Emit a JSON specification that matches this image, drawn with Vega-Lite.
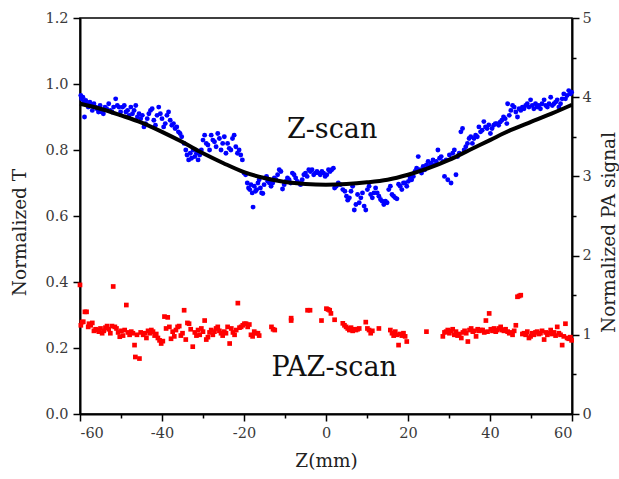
{
  "$schema": "https://vega.github.io/schema/vega-lite/v6.json",
  "autosize": "none",
  "width": 492,
  "height": 396,
  "padding": {"left": 80, "top": 18, "right": 47, "bottom": 65},
  "background": "white",
  "config": {
    "view": {"stroke": "#000", "strokeWidth": 1.5},
    "font": "DejaVu Serif",
    "axis": {
      "grid": false,
      "domainColor": "#000",
      "domainWidth": 2,
      "tickColor": "#000",
      "tickWidth": 1.5,
      "labelFont": "DejaVu Serif",
      "labelFontSize": 14.5,
      "labelColor": "#3a3a3a",
      "titleFont": "DejaVu Serif",
      "titleFontSize": 18.5,
      "titleFontWeight": "normal",
      "titleColor": "#222"
    }
  },
  "datasets": {
    "blue": [
      {"z":-59.8,"t":0.965},{"z":-59.6,"t":0.955},{"z":-59.3,"t":0.96},{"z":-59.1,"t":0.945},{"z":-58.9,"t":0.90},{"z":-58.6,"t":0.95},{"z":-58.3,"t":0.94},{"z":-58.0,"t":0.93},{"z":-57.6,"t":0.945},{"z":-57.3,"t":0.935},{"z":-57.0,"t":0.92},{"z":-56.6,"t":0.94},{"z":-56.2,"t":0.93},{"z":-55.9,"t":0.925},{"z":-55.5,"t":0.915},{"z":-55.1,"t":0.935},{"z":-54.7,"t":0.915},{"z":-54.3,"t":0.91},{"z":-53.9,"t":0.93},{"z":-53.5,"t":0.925},{"z":-53.0,"t":0.94},{"z":-52.6,"t":0.92},{"z":-52.2,"t":0.915},{"z":-51.8,"t":0.93},{"z":-51.3,"t":0.955},{"z":-50.9,"t":0.935},{"z":-50.5,"t":0.93},{"z":-50.1,"t":0.915},
      {"z":-49.6,"t":0.93},{"z":-49.2,"t":0.935},{"z":-48.8,"t":0.915},{"z":-48.4,"t":0.92},{"z":-48.0,"t":0.905},{"z":-47.6,"t":0.93},{"z":-47.2,"t":0.91},{"z":-46.8,"t":0.92},{"z":-46.4,"t":0.935},{"z":-46.0,"t":0.90},{"z":-45.6,"t":0.91},{"z":-45.2,"t":0.895},{"z":-44.8,"t":0.905},{"z":-44.4,"t":0.87},{"z":-44.0,"t":0.88},{"z":-43.6,"t":0.895},{"z":-43.2,"t":0.91},{"z":-42.8,"t":0.92},{"z":-42.4,"t":0.925},{"z":-42.0,"t":0.89},
      {"z":-41.6,"t":0.875},{"z":-41.2,"t":0.905},{"z":-40.8,"t":0.93},{"z":-40.4,"t":0.91},{"z":-40.0,"t":0.895},{"z":-39.6,"t":0.87},{"z":-39.2,"t":0.88},{"z":-38.8,"t":0.905},{"z":-38.4,"t":0.915},{"z":-38.0,"t":0.89},{"z":-37.6,"t":0.875},{"z":-37.2,"t":0.88},{"z":-36.8,"t":0.865},{"z":-36.4,"t":0.87},{"z":-36.0,"t":0.855},{"z":-35.6,"t":0.85},{"z":-35.2,"t":0.84},
      {"z":-34.6,"t":0.82},{"z":-34.2,"t":0.80},{"z":-33.9,"t":0.785},{"z":-33.5,"t":0.77},{"z":-33.1,"t":0.79},{"z":-32.8,"t":0.775},{"z":-32.4,"t":0.80},{"z":-32.0,"t":0.78},{"z":-31.6,"t":0.79},{"z":-31.2,"t":0.77},{"z":-30.8,"t":0.785},{"z":-30.4,"t":0.80},
      {"z":-30.0,"t":0.83},{"z":-29.6,"t":0.845},{"z":-29.2,"t":0.82},{"z":-28.8,"t":0.815},{"z":-28.4,"t":0.80},{"z":-28.0,"t":0.845},{"z":-27.6,"t":0.83},{"z":-27.2,"t":0.825},{"z":-26.8,"t":0.81},{"z":-26.4,"t":0.85},{"z":-26.0,"t":0.835},{"z":-25.6,"t":0.80},{"z":-25.2,"t":0.82},{"z":-24.8,"t":0.84},{"z":-24.4,"t":0.79},{"z":-24.0,"t":0.82},{"z":-23.6,"t":0.805},{"z":-23.2,"t":0.80},{"z":-22.8,"t":0.835},{"z":-22.4,"t":0.845},{"z":-22.0,"t":0.81},{"z":-21.6,"t":0.79},{"z":-21.2,"t":0.80},{"z":-20.8,"t":0.785},{"z":-20.4,"t":0.77},
      {"z":-20.0,"t":0.73},{"z":-19.6,"t":0.725},
      {"z":-19.2,"t":0.70},{"z":-18.9,"t":0.685},{"z":-18.6,"t":0.68},{"z":-18.3,"t":0.695},{"z":-18.0,"t":0.67},{"z":-17.8,"t":0.627},{"z":-17.5,"t":0.69},{"z":-17.2,"t":0.675},{"z":-16.9,"t":0.68},{"z":-16.6,"t":0.70},{"z":-16.3,"t":0.71},{"z":-16.0,"t":0.685},{"z":-15.7,"t":0.67},{"z":-15.4,"t":0.668},{"z":-15.1,"t":0.695},{"z":-14.8,"t":0.715},{"z":-14.5,"t":0.72},{"z":-14.2,"t":0.705},
      {"z":-13.8,"t":0.70},{"z":-13.4,"t":0.69},{"z":-13.0,"t":0.70},{"z":-12.6,"t":0.715},{"z":-12.2,"t":0.71},{"z":-11.8,"t":0.725},{"z":-11.4,"t":0.74},{"z":-11.0,"t":0.735},{"z":-10.6,"t":0.682},{"z":-10.2,"t":0.695},{"z":-9.8,"t":0.705},{"z":-9.4,"t":0.715},{"z":-9.0,"t":0.71},{"z":-8.6,"t":0.70},{"z":-8.2,"t":0.73},{"z":-7.8,"t":0.725},{"z":-7.4,"t":0.715},{"z":-7.0,"t":0.705},{"z":-6.6,"t":0.70},{"z":-6.2,"t":0.695},{"z":-5.8,"t":0.71},{"z":-5.4,"t":0.725},{"z":-5.0,"t":0.73},{"z":-4.6,"t":0.72},
      {"z":-4.2,"t":0.74},{"z":-3.8,"t":0.735},{"z":-3.4,"t":0.74},{"z":-3.0,"t":0.725},{"z":-2.6,"t":0.73},{"z":-2.2,"t":0.735},{"z":-1.8,"t":0.73},{"z":-1.4,"t":0.725},{"z":-1.0,"t":0.735},{"z":-0.6,"t":0.73},{"z":-0.2,"t":0.72},{"z":0.2,"t":0.725},{"z":0.6,"t":0.74},{"z":1.0,"t":0.735},{"z":1.4,"t":0.74},{"z":1.8,"t":0.745},{"z":2.1,"t":0.685},{"z":2.5,"t":0.69},{"z":3.0,"t":0.70},{"z":3.5,"t":0.695},{"z":4.1,"t":0.68},{"z":4.6,"t":0.675},
      {"z":5.0,"t":0.66},{"z":5.3,"t":0.648},{"z":5.7,"t":0.655},{"z":6.1,"t":0.675},{"z":6.5,"t":0.69},{"z":6.9,"t":0.618},{"z":7.3,"t":0.635},{"z":7.7,"t":0.665},{"z":8.1,"t":0.64},{"z":8.5,"t":0.655},{"z":8.9,"t":0.67},{"z":9.3,"t":0.63},{"z":9.7,"t":0.618},{"z":10.1,"t":0.68},{"z":10.5,"t":0.69},{"z":10.9,"t":0.665},{"z":11.3,"t":0.655},{"z":11.7,"t":0.67},
      {"z":12.1,"t":0.685},{"z":12.5,"t":0.67},{"z":12.9,"t":0.66},{"z":13.3,"t":0.65},{"z":13.7,"t":0.645},{"z":14.1,"t":0.635},{"z":14.5,"t":0.645},{"z":14.9,"t":0.64},{"z":15.3,"t":0.68},{"z":15.7,"t":0.69},{"z":16.1,"t":0.665},{"z":16.5,"t":0.66},{"z":16.9,"t":0.655},{"z":17.3,"t":0.652},{"z":17.7,"t":0.696},{"z":18.1,"t":0.69},{"z":18.5,"t":0.68},{"z":18.9,"t":0.70},{"z":19.3,"t":0.70},{"z":19.7,"t":0.69},{"z":20.1,"t":0.705},{"z":20.5,"t":0.715},{"z":20.9,"t":0.71},
      {"z":21.3,"t":0.72},{"z":21.7,"t":0.735},{"z":22.1,"t":0.745},{"z":22.5,"t":0.78},{"z":22.9,"t":0.74},{"z":23.3,"t":0.73},{"z":23.7,"t":0.75},{"z":24.1,"t":0.74},{"z":24.5,"t":0.755},{"z":24.9,"t":0.765},{"z":25.3,"t":0.75},{"z":25.7,"t":0.76},{"z":26.1,"t":0.77},{"z":26.5,"t":0.755},{"z":26.9,"t":0.765},{"z":27.3,"t":0.80},{"z":27.7,"t":0.775},{"z":28.1,"t":0.78},{"z":28.5,"t":0.765},{"z":28.9,"t":0.72},{"z":29.3,"t":0.77},
      {"z":29.7,"t":0.71},{"z":30.1,"t":0.785},{"z":30.5,"t":0.70},{"z":30.9,"t":0.79},{"z":31.3,"t":0.80},{"z":31.7,"t":0.725},{"z":32.1,"t":0.78},{"z":32.5,"t":0.79},{"z":32.9,"t":0.855},{"z":33.3,"t":0.865},{"z":33.7,"t":0.80},{"z":34.1,"t":0.81},
      {"z":34.5,"t":0.82},{"z":34.9,"t":0.835},{"z":35.3,"t":0.84},{"z":35.7,"t":0.82},{"z":36.1,"t":0.835},{"z":36.5,"t":0.845},{"z":36.9,"t":0.84},{"z":37.3,"t":0.87},{"z":37.7,"t":0.855},{"z":38.1,"t":0.86},{"z":38.5,"t":0.886},{"z":38.9,"t":0.87},{"z":39.3,"t":0.865},{"z":39.7,"t":0.876},{"z":40.1,"t":0.85},{"z":40.5,"t":0.865},{"z":40.9,"t":0.875},{"z":41.3,"t":0.88},{"z":41.7,"t":0.88},{"z":42.1,"t":0.875},
      {"z":42.5,"t":0.885},{"z":42.9,"t":0.89},{"z":43.3,"t":0.90},{"z":43.7,"t":0.895},{"z":44.1,"t":0.88},{"z":44.3,"t":0.94},{"z":44.7,"t":0.905},{"z":45.1,"t":0.92},{"z":45.5,"t":0.935},{"z":45.9,"t":0.93},{"z":46.3,"t":0.915},{"z":46.7,"t":0.90},{"z":47.1,"t":0.925},{"z":47.5,"t":0.92},{"z":47.9,"t":0.93},{"z":48.3,"t":0.925},{"z":48.7,"t":0.935},{"z":49.1,"t":0.94},{"z":49.5,"t":0.93},{"z":49.9,"t":0.952},
      {"z":50.3,"t":0.935},{"z":50.7,"t":0.925},{"z":51.1,"t":0.94},{"z":51.5,"t":0.93},{"z":51.9,"t":0.935},{"z":52.3,"t":0.925},{"z":52.7,"t":0.94},{"z":53.2,"t":0.952},{"z":53.6,"t":0.935},{"z":54.0,"t":0.93},{"z":54.4,"t":0.94},{"z":54.8,"t":0.96},{"z":55.2,"t":0.935},{"z":55.6,"t":0.94},{"z":56.0,"t":0.945},{"z":56.4,"t":0.952},{"z":56.8,"t":0.93},{"z":57.2,"t":0.94},{"z":57.6,"t":0.955},{"z":58.0,"t":0.97},{"z":58.4,"t":0.955},{"z":58.8,"t":0.965},{"z":59.2,"t":0.98},{"z":59.6,"t":0.97},{"z":59.9,"t":0.975}
    ],
    "fit": [
      {"z":-60,"t":0.94},{"z":-55,"t":0.925},{"z":-50,"t":0.905},{"z":-45,"t":0.883},{"z":-40,"t":0.855},{"z":-35,"t":0.824},{"z":-30,"t":0.79},{"z":-25,"t":0.76},{"z":-20,"t":0.733},{"z":-15,"t":0.715},{"z":-10,"t":0.703},{"z":-5,"t":0.697},{"z":0,"t":0.695},{"z":5,"t":0.697},{"z":10,"t":0.702},{"z":15,"t":0.71},{"z":20,"t":0.725},{"z":25,"t":0.745},{"z":30,"t":0.77},{"z":35,"t":0.80},{"z":40,"t":0.83},{"z":45,"t":0.86},{"z":50,"t":0.885},{"z":55,"t":0.91},{"z":60,"t":0.937}
    ],
    "red": [
      {"z":-60.0,"p":1.63},{"z":-59.8,"p":1.12},{"z":-59.5,"p":1.16},{"z":-59.2,"p":1.165},{"z":-58.8,"p":1.29},{"z":-58.4,"p":1.29},{"z":-58.0,"p":1.10},{"z":-57.8,"p":1.14},{"z":-57.4,"p":1.12},{"z":-57.0,"p":1.15},{"z":-56.6,"p":1.05},{"z":-56.2,"p":1.07},{"z":-55.8,"p":1.06},{"z":-55.4,"p":1.04},{"z":-55.0,"p":1.08},{"z":-54.6,"p":1.02},{"z":-54.2,"p":1.05},{"z":-53.8,"p":1.09},{"z":-53.4,"p":1.11},{"z":-53.0,"p":1.07},{"z":-52.6,"p":1.02},{"z":-52.2,"p":1.11},{"z":-51.9,"p":1.61},{"z":-51.5,"p":1.10},{"z":-51.1,"p":1.08},{"z":-50.7,"p":1.03},{"z":-50.3,"p":0.976},{"z":-49.9,"p":1.05},{"z":-49.5,"p":0.99},{"z":-49.1,"p":1.06},{"z":-48.7,"p":1.376},{"z":-48.3,"p":1.03},{"z":-47.9,"p":1.00},{"z":-47.5,"p":1.04},{"z":-47.1,"p":1.02},{"z":-46.7,"p":0.87},{"z":-46.5,"p":0.72},{"z":-46.1,"p":1.00},{"z":-45.5,"p":0.70},{"z":-45.2,"p":1.03},{"z":-44.6,"p":1.00},{"z":-44.2,"p":1.02},{"z":-43.8,"p":0.96},{"z":-43.4,"p":1.05},{"z":-43.0,"p":1.02},{"z":-42.6,"p":1.06},{"z":-42.2,"p":1.04},{"z":-41.8,"p":0.99},{"z":-41.4,"p":1.01},{"z":-41.0,"p":0.96},{"z":-40.6,"p":0.93},{"z":-40.2,"p":0.89},{"z":-39.8,"p":0.92},{"z":-39.4,"p":1.23},{"z":-39.0,"p":1.08},{"z":-38.6,"p":1.22},{"z":-38.2,"p":1.10},{"z":-37.8,"p":0.95},{"z":-37.4,"p":1.04},{"z":-37.0,"p":0.98},{"z":-36.6,"p":1.06},{"z":-36.2,"p":1.10},{"z":-35.8,"p":1.11},{"z":-35.4,"p":0.99},{"z":-35.0,"p":1.02},{"z":-34.6,"p":1.31},{"z":-34.2,"p":0.94},{"z":-33.8,"p":1.15},{"z":-33.4,"p":1.14},{"z":-33.0,"p":1.07},{"z":-32.5,"p":0.85},{"z":-32.0,"p":1.03},{"z":-31.6,"p":0.99},{"z":-31.2,"p":1.06},{"z":-30.8,"p":1.00},{"z":-30.4,"p":1.08},{"z":-30.0,"p":1.04},{"z":-29.6,"p":1.18},{"z":-29.2,"p":0.94},{"z":-28.8,"p":0.97},{"z":-28.4,"p":1.03},{"z":-28.0,"p":1.06},{"z":-27.6,"p":1.00},{"z":-27.2,"p":1.04},{"z":-26.8,"p":1.08},{"z":-26.4,"p":1.10},{"z":-26.0,"p":1.05},{"z":-25.6,"p":1.02},{"z":-25.2,"p":0.99},{"z":-24.8,"p":1.04},{"z":-24.4,"p":1.02},{"z":-24.0,"p":1.10},{"z":-23.5,"p":0.89},{"z":-23.1,"p":1.08},{"z":-22.7,"p":1.03},{"z":-22.3,"p":1.00},{"z":-21.9,"p":1.06},{"z":-21.5,"p":1.40},{"z":-21.1,"p":1.09},{"z":-20.7,"p":1.10},{"z":-20.3,"p":1.12},{"z":-19.9,"p":1.14},{"z":-19.5,"p":1.14},{"z":-19.1,"p":1.10},{"z":-18.7,"p":1.13},{"z":-18.3,"p":1.00},{"z":-17.9,"p":0.98},{"z":-17.5,"p":1.04},{"z":-17.1,"p":1.02},{"z":-16.6,"p":1.02},{"z":-16.3,"p":0.99},{"z":-13.3,"p":1.10},{"z":-12.9,"p":1.07},{"z":-12.5,"p":1.06},{"z":-8.5,"p":1.18},{"z":-8.5,"p":1.21},{"z":-4.5,"p":1.31},
      {"z":-3.9,"p":1.31},{"z":-1.1,"p":1.18},{"z":0.1,"p":1.33},{"z":0.5,"p":1.32},{"z":0.9,"p":1.31},{"z":1.2,"p":1.27},{"z":2.1,"p":1.19},{"z":4.1,"p":1.145},{"z":4.5,"p":1.12},{"z":4.9,"p":1.10},{"z":5.3,"p":1.08},{"z":5.7,"p":1.06},{"z":6.1,"p":1.09},{"z":6.5,"p":1.05},{"z":6.9,"p":1.07},{"z":7.3,"p":1.06},{"z":7.7,"p":1.07},{"z":8.1,"p":1.08},{"z":9.7,"p":1.16},{"z":10.1,"p":1.08},{"z":10.5,"p":1.06},{"z":10.9,"p":1.02},{"z":11.3,"p":1.05},{"z":12.9,"p":1.08},{"z":15.7,"p":1.06},{"z":16.1,"p":1.02},{"z":16.5,"p":0.99},{"z":16.9,"p":1.04},{"z":17.3,"p":1.00},{"z":17.7,"p":0.87},{"z":18.1,"p":1.01},{"z":18.5,"p":0.99},{"z":18.9,"p":1.02},{"z":19.3,"p":0.98},{"z":19.7,"p":0.915},{"z":24.5,"p":1.04},{"z":28.5,"p":0.98},{"z":28.9,"p":1.03},{"z":29.3,"p":1.04},{"z":29.7,"p":1.06},{"z":30.1,"p":1.02},{"z":30.5,"p":1.05},{"z":30.9,"p":1.07},{"z":31.3,"p":1.00},{"z":31.7,"p":1.04},{"z":32.1,"p":0.99},{"z":32.5,"p":1.01},{"z":33.0,"p":0.96},{"z":33.4,"p":1.03},{"z":33.8,"p":1.05},{"z":34.2,"p":1.02},{"z":34.6,"p":0.915},{"z":35.0,"p":1.06},{"z":35.4,"p":1.08},{"z":35.8,"p":1.04},{"z":36.2,"p":1.05},{"z":36.6,"p":0.98},{"z":37.0,"p":1.07},{"z":37.4,"p":1.05},{"z":37.8,"p":1.06},{"z":38.2,"p":1.06},{"z":38.6,"p":1.03},{"z":39.0,"p":1.18},{"z":39.4,"p":1.04},{"z":39.8,"p":1.27},{"z":40.2,"p":1.07},{"z":40.6,"p":1.05},{"z":41.0,"p":1.08},{"z":41.4,"p":1.04},{"z":41.8,"p":1.06},{"z":42.2,"p":1.08},{"z":42.6,"p":1.10},{"z":43.0,"p":1.06},{"z":43.4,"p":1.05},{"z":43.8,"p":1.07},{"z":44.3,"p":1.04},{"z":44.7,"p":1.02},{"z":45.1,"p":1.03},{"z":45.5,"p":1.00},{"z":45.9,"p":1.05},{"z":46.3,"p":1.12},{"z":46.7,"p":1.48},{"z":47.1,"p":1.49},{"z":47.5,"p":1.50},{"z":47.9,"p":1.01},{"z":48.3,"p":1.02},{"z":48.7,"p":1.00},{"z":49.1,"p":1.04},{"z":49.5,"p":0.96},{"z":49.9,"p":0.98},{"z":50.3,"p":1.02},{"z":50.7,"p":1.00},{"z":51.1,"p":1.03},{"z":51.5,"p":1.04},{"z":51.9,"p":1.01},{"z":52.3,"p":1.02},{"z":52.7,"p":1.05},{"z":53.2,"p":0.94},{"z":53.6,"p":1.03},{"z":54.0,"p":1.00},{"z":54.4,"p":1.02},{"z":54.8,"p":1.06},{"z":55.2,"p":1.01},{"z":55.6,"p":1.03},{"z":56.0,"p":0.99},{"z":56.4,"p":1.10},{"z":56.8,"p":1.02},{"z":57.2,"p":1.00},{"z":57.6,"p":0.87},{"z":58.0,"p":0.98},{"z":58.4,"p":1.14},{"z":58.8,"p":0.96},{"z":59.2,"p":0.95},{"z":59.6,"p":0.97},{"z":59.9,"p":0.93}
    ],
    "labels": [
      {"z": 1.5, "t": 0.86, "label": "Z-scan"},
      {"z": 2, "t": 0.14, "label": "PAZ-scan"}
    ]
  },
  "encoding": {
    "x": {
      "field": "z",
      "type": "quantitative",
      "scale": {"domain": [-60, 60], "nice": false, "zero": false},
      "axis": {
        "title": "Z(mm)",
        "values": [-60,-50,-40,-30,-20,-10,0,10,20,30,40,50,60],
        "labelExpr": "datum.value % 20 === 0 ? '' + datum.value : ''",
        "tickSize": {"condition": {"test": "datum.value % 20 === 0", "value": 7}, "value": 4},
        "labelPadding": 5,
        "titlePadding": 12
      }
    }
  },
  "layer": [
    {
      "layer": [
        {
          "data": {"name": "blue"},
          "mark": {"type": "circle", "color": "#0000ff", "opacity": 1, "size": 24},
          "encoding": {
            "y": {
              "field": "t",
              "type": "quantitative",
              "scale": {"domain": [0, 1.2], "nice": false},
              "axis": {
                "orient": "left",
                "title": "Normalized T",
                "titleY": 214,
                "values": [0,0.1,0.2,0.3,0.4,0.5,0.6,0.7,0.8,0.9,1.0,1.1,1.2],
                "labelExpr": "round(datum.value*10) % 2 === 0 ? format(datum.value, '.1f') : ''",
                "tickSize": {"condition": {"test": "round(datum.value*10) % 2 === 0", "value": 7}, "value": 4},
                "labelPadding": 5,
                "titlePadding": 15
              }
            }
          }
        },
        {
          "data": {"name": "fit"},
          "mark": {"type": "line", "color": "#000", "strokeWidth": 4, "interpolate": "monotone"},
          "encoding": {"y": {"field": "t", "type": "quantitative"}}
        },
        {
          "data": {"name": "labels"},
          "mark": {"type": "text", "font": "DejaVu Serif", "fontSize": 27, "color": "#111"},
          "encoding": {
            "y": {"field": "t", "type": "quantitative"},
            "text": {"field": "label"}
          }
        }
      ]
    },
    {
      "data": {"name": "red"},
      "mark": {"type": "square", "color": "#ff0000", "opacity": 1, "filled": true, "size": 22},
      "encoding": {
        "y": {
          "field": "p",
          "type": "quantitative",
          "scale": {"domain": [0, 5], "nice": false},
          "axis": {
            "orient": "right",
            "title": "Normalized PA signal",
            "titleAngle": 270,
            "titleBaseline": "top",
            "titleY": 214,
            "values": [0,0.5,1,1.5,2,2.5,3,3.5,4,4.5,5],
            "labelExpr": "datum.value % 1 === 0 ? '' + datum.value : ''",
            "tickSize": {"condition": {"test": "datum.value % 1 === 0", "value": 7}, "value": 4},
            "labelPadding": 3,
            "titlePadding": 8
          }
        }
      }
    }
  ],
  "resolve": {"scale": {"y": "independent"}}
}
